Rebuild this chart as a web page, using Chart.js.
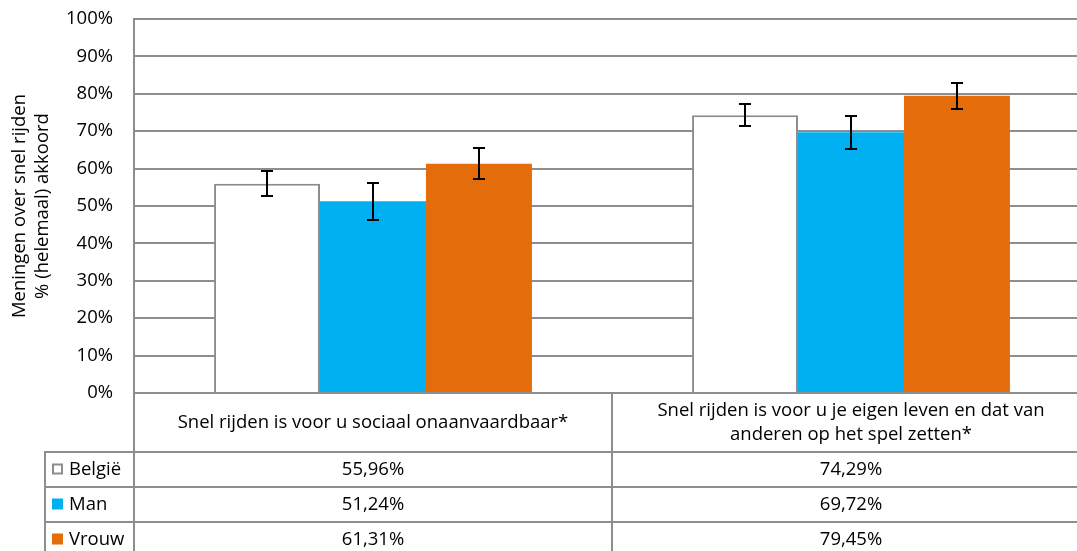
<!DOCTYPE html>
<html>
<head>
<meta charset="utf-8">
<script src="https://cdn.jsdelivr.net/npm/chart.js@4/dist/chart.umd.min.js"></script>
<style>
  html, body { margin: 0; padding: 0; background: #fff; overflow: hidden; }
  #wrap { position: relative; width: 1092px; height: 551px; }
</style>
</head>
<body>
<div id="wrap"><canvas id="c"></canvas></div>
<script>
// ---- data ----
const categories = [
  ["Snel rijden is voor u sociaal onaanvaardbaar*"],
  ["Snel rijden is voor u je eigen leven en dat van", "anderen op het spel zetten*"]
];
const seriesNames = ["België", "Man", "Vrouw"];
const belgie = [55.96, 74.29];
const man = [51.24, 69.72];
const vrouw = [61.31, 79.45];
const belgieLow = [52.6, 71.4];
const belgieHigh = [59.4, 77.3];
const manLow = [46.3, 65.3];
const manHigh = [56.1, 74.1];
const vrouwLow = [57.1, 76.0];
const vrouwHigh = [65.5, 82.8];
const yTicks = [0, 10, 20, 30, 40, 50, 60, 70, 80, 90, 100];
const yTitle = ["Meningen over snel rijden", "% (helemaal) akkoord"];

// ---- styles ----
const FONT = "'Open Sans', 'Noto Sans', sans-serif";
const FS = 18.5;
const GRID = '#8e8e8e';
const colors = ['#ffffff', '#00b0f0', '#e46c0a'];
const borders = ['#8c8c8c', '#00b0f0', '#e46c0a'];

const errLow = [belgieLow, manLow, vrouwLow];
const errHigh = [belgieHigh, manHigh, vrouwHigh];

const errorBars = {
  id: 'errorBars',
  afterDatasetsDraw(chart) {
    const ctx = chart.ctx, y = chart.scales.y;
    ctx.save();
    ctx.strokeStyle = '#000';
    ctx.lineWidth = 2;
    chart.data.datasets.forEach((ds, di) => {
      const meta = chart.getDatasetMeta(di);
      meta.data.forEach((bar, i) => {
        const x = Math.round(bar.x);
        const yl = Math.round(y.getPixelForValue(errLow[di][i]));
        const yh = Math.round(y.getPixelForValue(errHigh[di][i]));
        ctx.beginPath();
        ctx.moveTo(x, yh); ctx.lineTo(x, yl);
        ctx.moveTo(x - 6, yh); ctx.lineTo(x + 6, yh);
        ctx.moveTo(x - 6, yl); ctx.lineTo(x + 6, yl);
        ctx.stroke();
      });
    });
    ctx.restore();
  }
};

const dataTable = {
  id: 'dataTable',
  afterDraw(chart) {
    const ctx = chart.ctx, xs = chart.scales.x, area = chart.chartArea;
    const W = chart.width, H = chart.height;
    const top = area.bottom;
    const headerH = 59, rowH = 35;
    const legendLeft = 45;
    const c0 = xs.getPixelForValue(0), c1 = xs.getPixelForValue(1);
    const divider = (c0 + c1) / 2;
    ctx.save();
    ctx.strokeStyle = GRID;
    ctx.lineWidth = 2;
    ctx.beginPath();
    ctx.moveTo(area.left, top); ctx.lineTo(area.left, H);
    ctx.moveTo(Math.round(divider), top); ctx.lineTo(Math.round(divider), H);
    const r0 = top + headerH;
    ctx.moveTo(legendLeft, r0 - 1); ctx.lineTo(legendLeft, H);
    for (let r = 0; r < 3; r++) {
      const yy = r0 + r * rowH;
      ctx.moveTo(legendLeft - 1, yy); ctx.lineTo(W, yy);
    }
    ctx.stroke();

    ctx.fillStyle = '#000';
    ctx.font = FS + 'px ' + FONT;
    ctx.textAlign = 'center';
    ctx.textBaseline = 'middle';
    const lh = 24;
    categories.forEach((lines, i) => {
      const cx = xs.getPixelForValue(i);
      const cy = top + headerH / 2;
      lines.forEach((t, k) => {
        ctx.fillText(t, cx, cy + (k - (lines.length - 1) / 2) * lh);
      });
    });
    const series = [belgie, man, vrouw];
    series.forEach((vals, s) => {
      const cy = r0 + s * rowH + rowH / 2;
      vals.forEach((v, i) => {
        const cx = xs.getPixelForValue(i);
        ctx.fillText(v.toFixed(2).replace('.', ',') + '%', cx, cy);
      });
      ctx.fillStyle = colors[s];
      ctx.fillRect(52, cy - 6, 11, 11);
      if (s === 0) {
        ctx.strokeStyle = '#8c8c8c';
        ctx.lineWidth = 2;
        ctx.strokeRect(53, cy - 5, 9, 9);
      }
      ctx.fillStyle = '#000';
      ctx.textAlign = 'left';
      ctx.fillText(seriesNames[s], 69, cy);
      ctx.textAlign = 'center';
    });
    ctx.restore();
  }
};

new Chart(document.getElementById('c'), {
  type: 'bar',
  data: {
    labels: categories.map(l => l.join(' ')),
    datasets: seriesNames.map((n, i) => ({
      label: n,
      data: [belgie, man, vrouw][i],
      backgroundColor: colors[i],
      borderColor: borders[i],
      borderWidth: i === 0 ? 2 : 0,
      categoryPercentage: 0.665,
      barPercentage: 1.0
    }))
  },
  options: {
    responsive: true,
    maintainAspectRatio: false,
    animation: false,
    layout: { padding: { top: 19, right: 2, bottom: 0, left: 0 } },
    plugins: { legend: { display: false }, tooltip: { enabled: false } },
    scales: {
      x: {
        grid: { display: false },
        border: { display: false },
        ticks: { display: false },
        afterFit(s) { s.height = 158; }
      },
      y: {
        min: 0, max: 100,
        afterBuildTicks(s) { s.ticks = yTicks.map(v => ({ value: v })); },
        afterFit(s) { s.width = 134; },
        grid: { color: GRID, lineWidth: 2, drawTicks: true, tickLength: 21, tickColor: 'rgba(0,0,0,0)' },
        border: { color: GRID, width: 2 },
        ticks: {
          padding: 0,
          color: '#000',
          font: { family: FONT, size: FS },
          callback: v => v + '%'
        },
        title: {
          display: true,
          text: yTitle,
          color: '#000',
          font: { family: FONT, size: FS, lineHeight: 1.2 },
          padding: { top: 9, bottom: 0 }
        }
      }
    }
  },
  plugins: [errorBars, dataTable]
});
</script>
</body>
</html>
